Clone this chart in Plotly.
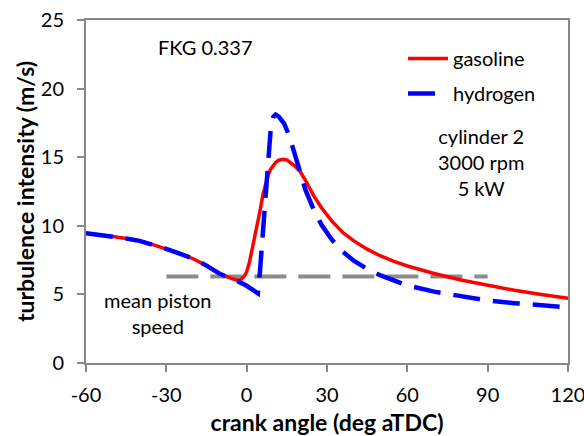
import plotly.graph_objects as go

# crank angle (deg aTDC) and turbulence intensity (m/s)
gas_angle = [-60, -55, -50, -45, -40, -35, -30, -25, -20, -15, -10, -7, -5, -3, -2, -1, 0, 1, 2, 3, 4, 5, 6, 7, 8, 9, 10, 11, 12,
             13.5, 15, 16.5, 18, 20, 22, 25, 28, 32, 36, 40, 45, 50, 55, 60, 65, 70, 80, 90, 100, 110, 120]
gas_ti = [9.45, 9.35, 9.22, 9.07, 8.9, 8.63, 8.32, 7.97, 7.6, 7.1, 6.5, 6.25, 6.12, 6.02, 6.1, 6.3, 6.65, 7.3, 8.2, 9.2, 10.1, 11.1, 12.2, 13.0, 13.7, 14.15, 14.45, 14.65, 14.78,
          14.85, 14.8, 14.6, 14.35, 13.95, 13.3, 12.2, 11.3, 10.3, 9.5, 8.9, 8.3, 7.8, 7.4, 7.07, 6.78, 6.52, 6.05, 5.65, 5.3, 5.0, 4.71]

h2_angle = [-60, -55, -50, -45, -40, -35, -30, -25, -20, -15, -10, -7, -5, -3, 0, 2, 4.2, 4.7, 5.2, 6, 7, 8, 9, 10, 10.8, 12,
            14, 16, 18, 20, 22, 25, 28, 32, 36, 40, 45, 50, 55, 60, 70, 80, 90, 100, 110, 120]
h2_ti = [9.45, 9.35, 9.22, 9.07, 8.9, 8.63, 8.32, 7.97, 7.6, 7.1, 6.5, 6.25, 6.1, 5.93, 5.63, 5.38, 5.08, 6.0, 7.3, 9.8, 12.9, 15.4, 17.1, 17.95, 18.1, 17.95,
         17.45, 16.5, 15.2, 13.85, 12.6, 11.2, 10.05, 8.95, 8.1, 7.45, 6.85, 6.38, 6.0, 5.65, 5.2, 4.85, 4.55, 4.36, 4.2, 4.06]

piston_angle = [-30, 90]
piston_speed = [6.3, 6.3]

x_ticks = [-60, -30, 0, 30, 60, 90, 120]
x_ticktext = ["-60", "-30", "0", "30", "60", "90", "120"]
y_ticks = [0, 5, 10, 15, 20, 25]

FONT = "Lato"
FS = 20
TFS = 23
AX = "#878787"

fig = go.Figure()
fig.add_trace(go.Scatter(x=piston_angle, y=piston_speed, mode="lines", showlegend=False,
                         line=dict(color="#8c8c8c", width=4, dash="32px,12px")))
fig.add_trace(go.Scatter(x=gas_angle, y=gas_ti, mode="lines", name="gasoline", legendgroup="g",
                         line=dict(color="#ff0000", width=3.5)))
fig.add_trace(go.Scatter(x=h2_angle, y=h2_ti, mode="lines", name="hydrogen", legendgroup="h",
                         line=dict(color="#0000ff", width=4.5, dash="27px,13px")))

fig.update_layout(
    template="none",
    width=584, height=436,
    margin=dict(l=86, r=16, t=20, b=73, autoexpand=False),
    paper_bgcolor="white", plot_bgcolor="white",
    font=dict(family=FONT, size=FS, color="#000000"),
    showlegend=True,
    legend=dict(x=(403 - 86) / 482, y=(363 - 39) / 343, xanchor="left", yanchor="top", bgcolor="rgba(0,0,0,0)",
                itemwidth=40, traceorder="grouped", tracegroupgap=6, font=dict(size=FS, family=FONT)),
    xaxis=dict(range=[-60, 120], tickvals=x_ticks, ticktext=x_ticktext, ticks="outside", ticklen=7, tickcolor=AX,
               tickwidth=1.5, ticklabelstandoff=6, ticklabeloverflow="allow", automargin=False,
               showline=True, linecolor=AX, linewidth=2, mirror=True, showgrid=False, zeroline=False,
               tickfont=dict(size=FS, family=FONT),
               title=dict(text="<b>crank angle (deg aTDC)</b>", font=dict(size=TFS, family=FONT), standoff=11)),
    yaxis=dict(range=[0, 25], tickvals=y_ticks, ticks="outside", ticklen=7, tickcolor=AX,
               tickwidth=1.5, ticklabelstandoff=9, ticklabeloverflow="allow", automargin=False,
               showline=True, linecolor=AX, linewidth=2, mirror=True, showgrid=False, zeroline=False,
               tickfont=dict(size=FS, family=FONT),
               title=dict(text="<b>turbulence intensity (m/s)</b>", font=dict(size=TFS, family=FONT), standoff=0)),
    annotations=[
        dict(text="FKG 0.337", xref="paper", yref="paper", x=(205 - 86) / 482, y=(363 - 47) / 343,
             xanchor="center", yanchor="middle", showarrow=False, font=dict(size=FS, family=FONT)),
        dict(text="cylinder 2<br>3000 rpm<br>5 kW", xref="paper", yref="paper", x=(481 - 86) / 482,
             y=(363 - 162) / 343, xanchor="center", yanchor="middle", showarrow=False,
             font=dict(size=FS, family=FONT), align="center"),
        dict(text="mean piston<br>speed", xref="paper", yref="paper", x=(158 - 86) / 482,
             y=(363 - 313) / 343, xanchor="center", yanchor="middle", showarrow=False,
             font=dict(size=FS, family=FONT), align="center"),
    ],
)

fig.write_html("out.html")
